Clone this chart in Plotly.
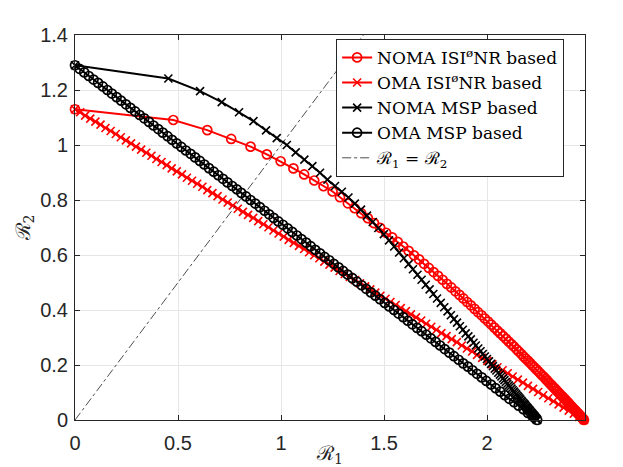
import plotly.graph_objects as go

# NOMA, ISI-free-NR based (red circles)
noma_isinr_r1 = [0, 0.477, 0.642, 0.758, 0.852, 0.931, 0.998, 1.060, 1.112, 1.161, 1.206, 1.250, 1.286,
                 1.324, 1.357, 1.389, 1.421, 1.451, 1.481, 1.510, 1.539, 1.566, 1.593, 1.619,
                 1.645, 1.670, 1.694, 1.717, 1.740, 1.762, 1.784, 1.805, 1.826, 1.846, 1.866,
                 1.885, 1.903, 1.921, 1.939, 1.956, 1.973, 1.989, 2.005, 2.020, 2.035, 2.050,
                 2.064, 2.078, 2.092, 2.105, 2.118, 2.130, 2.143, 2.154, 2.166, 2.177, 2.188,
                 2.199, 2.209, 2.219, 2.229, 2.239, 2.248, 2.257, 2.266, 2.275, 2.283, 2.291,
                 2.299, 2.307, 2.315, 2.322, 2.329, 2.336, 2.343, 2.350, 2.356, 2.363, 2.369,
                 2.375, 2.381, 2.386, 2.392, 2.397, 2.402, 2.408, 2.412, 2.417, 2.422, 2.427,
                 2.431, 2.435, 2.440, 2.444, 2.448, 2.452, 2.456, 2.459, 2.463, 2.466, 2.470]
noma_isinr_r2 = [1.130, 1.091, 1.054, 1.022, 0.994, 0.966, 0.941, 0.915, 0.893, 0.871, 0.850, 0.831, 0.810,
                 0.788, 0.770, 0.752, 0.734, 0.716, 0.699, 0.681, 0.664, 0.648, 0.631, 0.615,
                 0.599, 0.584, 0.568, 0.553, 0.538, 0.524, 0.510, 0.495, 0.482, 0.468, 0.455,
                 0.442, 0.429, 0.417, 0.404, 0.392, 0.381, 0.369, 0.358, 0.347, 0.336, 0.325,
                 0.315, 0.305, 0.295, 0.285, 0.276, 0.267, 0.257, 0.249, 0.240, 0.231, 0.223,
                 0.215, 0.207, 0.199, 0.192, 0.184, 0.177, 0.170, 0.163, 0.157, 0.150, 0.144,
                 0.137, 0.131, 0.125, 0.119, 0.114, 0.108, 0.103, 0.097, 0.092, 0.087, 0.082,
                 0.078, 0.073, 0.068, 0.064, 0.060, 0.055, 0.051, 0.047, 0.043, 0.039, 0.036,
                 0.032, 0.028, 0.025, 0.022, 0.018, 0.015, 0.012, 0.009, 0.006, 0.003, 0.000]

# OMA, ISI-free-NR based (red crosses)
oma_isinr_r1 = [0, 0.025, 0.049, 0.074, 0.099, 0.124, 0.148, 0.173, 0.198, 0.222,
                0.247, 0.272, 0.296, 0.321, 0.346, 0.371, 0.395, 0.420, 0.445, 0.469,
                0.494, 0.519, 0.543, 0.568, 0.593, 0.618, 0.642, 0.667, 0.692, 0.716,
                0.741, 0.766, 0.790, 0.815, 0.840, 0.865, 0.889, 0.914, 0.939, 0.963,
                0.988, 1.013, 1.037, 1.062, 1.087, 1.112, 1.136, 1.161, 1.186, 1.210,
                1.235, 1.260, 1.284, 1.309, 1.334, 1.359, 1.383, 1.408, 1.433, 1.457,
                1.482, 1.507, 1.531, 1.556, 1.581, 1.606, 1.630, 1.655, 1.680, 1.704,
                1.729, 1.754, 1.778, 1.803, 1.828, 1.853, 1.877, 1.902, 1.927, 1.951,
                1.976, 2.001, 2.025, 2.050, 2.075, 2.100, 2.124, 2.149, 2.174, 2.198,
                2.223, 2.248, 2.272, 2.297, 2.322, 2.347, 2.371, 2.396, 2.421, 2.445, 2.470]
oma_isinr_r2 = [1.130, 1.119, 1.107, 1.096, 1.085, 1.074, 1.062, 1.051, 1.040, 1.028,
                1.017, 1.006, 0.994, 0.983, 0.972, 0.961, 0.949, 0.938, 0.927, 0.915,
                0.904, 0.893, 0.881, 0.870, 0.859, 0.848, 0.836, 0.825, 0.814, 0.802,
                0.791, 0.780, 0.768, 0.757, 0.746, 0.735, 0.723, 0.712, 0.701, 0.689,
                0.678, 0.667, 0.655, 0.644, 0.633, 0.622, 0.610, 0.599, 0.588, 0.576,
                0.565, 0.554, 0.542, 0.531, 0.520, 0.509, 0.497, 0.486, 0.475, 0.463,
                0.452, 0.441, 0.429, 0.418, 0.407, 0.396, 0.384, 0.373, 0.362, 0.350,
                0.339, 0.328, 0.316, 0.305, 0.294, 0.283, 0.271, 0.260, 0.249, 0.237,
                0.226, 0.215, 0.203, 0.192, 0.181, 0.170, 0.158, 0.147, 0.136, 0.124,
                0.113, 0.102, 0.090, 0.079, 0.068, 0.057, 0.045, 0.034, 0.023, 0.011, 0.000]

# NOMA, MSP based (black crosses)
noma_msp_r1 = [0, 0.453, 0.607, 0.712, 0.796, 0.866, 0.927, 0.979, 1.028, 1.071, 1.113, 1.152, 1.189,
               1.225, 1.262, 1.295, 1.327, 1.358, 1.388, 1.417, 1.445, 1.472, 1.499, 1.524,
               1.549, 1.573, 1.596, 1.619, 1.640, 1.662, 1.682, 1.702, 1.721, 1.739, 1.757,
               1.775, 1.792, 1.808, 1.824, 1.839, 1.854, 1.868, 1.882, 1.896, 1.909, 1.921,
               1.934, 1.945, 1.957, 1.968, 1.979, 1.989, 1.999, 2.009, 2.019, 2.028, 2.037,
               2.045, 2.054, 2.062, 2.069, 2.077, 2.084, 2.091, 2.098, 2.105, 2.111, 2.118,
               2.124, 2.130, 2.135, 2.141, 2.146, 2.151, 2.156, 2.161, 2.166, 2.170, 2.175,
               2.179, 2.183, 2.187, 2.191, 2.195, 2.198, 2.202, 2.205, 2.208, 2.212, 2.215,
               2.218, 2.221, 2.223, 2.226, 2.229, 2.231, 2.234, 2.236, 2.239, 2.241, 2.243]
noma_msp_r2 = [1.290, 1.242, 1.196, 1.156, 1.119, 1.087, 1.053, 1.025, 1.000, 0.973, 0.947, 0.923, 0.899,
               0.874, 0.851, 0.830, 0.809, 0.787, 0.765, 0.743, 0.720, 0.698, 0.676, 0.653,
               0.631, 0.609, 0.588, 0.567, 0.548, 0.528, 0.510, 0.492, 0.475, 0.458, 0.442,
               0.426, 0.410, 0.395, 0.381, 0.367, 0.354, 0.341, 0.328, 0.315, 0.304, 0.293,
               0.281, 0.271, 0.260, 0.250, 0.240, 0.231, 0.222, 0.213, 0.204, 0.196, 0.187,
               0.180, 0.172, 0.165, 0.158, 0.151, 0.145, 0.138, 0.132, 0.126, 0.120, 0.114,
               0.108, 0.103, 0.098, 0.093, 0.088, 0.084, 0.079, 0.075, 0.070, 0.066, 0.062,
               0.058, 0.055, 0.051, 0.047, 0.044, 0.041, 0.037, 0.035, 0.032, 0.028, 0.025,
               0.023, 0.020, 0.018, 0.016, 0.013, 0.011, 0.008, 0.006, 0.004, 0.002, 0.000]

# OMA, MSP based (black circles)
oma_msp_r1 = [0, 0.022, 0.045, 0.067, 0.090, 0.112, 0.135, 0.157, 0.179, 0.202,
              0.224, 0.247, 0.269, 0.292, 0.314, 0.336, 0.359, 0.381, 0.404, 0.426,
              0.449, 0.471, 0.493, 0.516, 0.538, 0.561, 0.583, 0.606, 0.628, 0.650,
              0.673, 0.695, 0.718, 0.740, 0.763, 0.785, 0.807, 0.830, 0.852, 0.875,
              0.897, 0.920, 0.942, 0.964, 0.987, 1.009, 1.032, 1.054, 1.077, 1.099,
              1.122, 1.144, 1.166, 1.189, 1.211, 1.234, 1.256, 1.279, 1.301, 1.323,
              1.346, 1.368, 1.391, 1.413, 1.436, 1.458, 1.480, 1.503, 1.525, 1.548,
              1.570, 1.593, 1.615, 1.637, 1.660, 1.682, 1.705, 1.727, 1.750, 1.772,
              1.794, 1.817, 1.839, 1.862, 1.884, 1.907, 1.929, 1.951, 1.974, 1.996,
              2.019, 2.041, 2.064, 2.086, 2.108, 2.131, 2.153, 2.176, 2.198, 2.221, 2.243]
oma_msp_r2 = [1.290, 1.277, 1.264, 1.251, 1.238, 1.226, 1.213, 1.200, 1.187, 1.174,
              1.161, 1.148, 1.135, 1.122, 1.109, 1.097, 1.084, 1.071, 1.058, 1.045,
              1.032, 1.019, 1.006, 0.993, 0.980, 0.968, 0.955, 0.942, 0.929, 0.916,
              0.903, 0.890, 0.877, 0.864, 0.851, 0.839, 0.826, 0.813, 0.800, 0.787,
              0.774, 0.761, 0.748, 0.735, 0.722, 0.710, 0.697, 0.684, 0.671, 0.658,
              0.645, 0.632, 0.619, 0.606, 0.593, 0.581, 0.568, 0.555, 0.542, 0.529,
              0.516, 0.503, 0.490, 0.477, 0.464, 0.452, 0.439, 0.426, 0.413, 0.400,
              0.387, 0.374, 0.361, 0.348, 0.335, 0.323, 0.310, 0.297, 0.284, 0.271,
              0.258, 0.245, 0.232, 0.219, 0.206, 0.194, 0.181, 0.168, 0.155, 0.142,
              0.129, 0.116, 0.103, 0.090, 0.077, 0.065, 0.052, 0.039, 0.026, 0.013, 0.000]

# R1 = R2 reference line
diag_r = [0, 1.4]

x_ticks = [0, 0.5, 1, 1.5, 2]
x_labels = ["0", "0.5", "1", "1.5", "2"]
y_ticks = [0, 0.2, 0.4, 0.6, 0.8, 1.0, 1.2, 1.4]
y_labels = ["0", "0.2", "0.4", "0.6", "0.8", "1", "1.2", "1.4"]

RED = "#ff0000"
BLACK = "#000000"
AXC = "#262626"

fig = go.Figure()

fig.add_trace(go.Scatter(
    x=noma_isinr_r1, y=noma_isinr_r2, mode="lines+markers",
    name="NOMA ISI<sup>ø</sup>NR based",
    line=dict(color=RED, width=2),
    marker=dict(symbol="circle-open", size=9, color=RED, line=dict(width=1.7, color=RED)),
    cliponaxis=False))

fig.add_trace(go.Scatter(
    x=oma_isinr_r1, y=oma_isinr_r2, mode="lines+markers",
    name="OMA ISI<sup>ø</sup>NR based",
    line=dict(color=RED, width=2),
    marker=dict(symbol="x-thin", size=8, color=RED, line=dict(width=1.6, color=RED)),
    cliponaxis=False))

fig.add_trace(go.Scatter(
    x=noma_msp_r1, y=noma_msp_r2, mode="lines+markers",
    name="NOMA MSP based",
    line=dict(color=BLACK, width=2),
    marker=dict(symbol="x-thin", size=8, color=BLACK, line=dict(width=1.6, color=BLACK)),
    cliponaxis=False))

fig.add_trace(go.Scatter(
    x=oma_msp_r1, y=oma_msp_r2, mode="lines+markers",
    name="OMA MSP based",
    line=dict(color=BLACK, width=2),
    marker=dict(symbol="circle-open", size=9, color=BLACK, line=dict(width=1.7, color=BLACK)),
    cliponaxis=False))

fig.add_trace(go.Scatter(
    x=diag_r, y=diag_r, mode="lines",
    name="ℛ<sub>1</sub> = ℛ<sub>2</sub>",
    line=dict(color=BLACK, width=0.7, dash="dashdot")))

axis_common = dict(
    showline=True, linecolor=AXC, linewidth=1, mirror="ticks",
    ticks="inside", ticklen=5, tickcolor=AXC,
    showgrid=True, gridcolor="#e6e6e6", gridwidth=1,
    zeroline=False, automargin=False,
    tickfont=dict(family="Liberation Sans, Arial, sans-serif", size=20, color=AXC),
)

fig.update_xaxes(range=[0, 2.475], tickvals=x_ticks, ticktext=x_labels,
                 ticklabelstandoff=5,
                 title=dict(text="ℛ<sub>1</sub>", standoff=0,
                            font=dict(family="DejaVu Serif, serif", size=20, color=AXC)),
                 **axis_common)
fig.update_yaxes(range=[0, 1.4], tickvals=y_ticks, ticktext=y_labels,
                 ticklabelstandoff=2,
                 title=dict(text="ℛ<sub>2</sub>", standoff=4,
                            font=dict(family="DejaVu Serif, serif", size=20, color=AXC)),
                 **axis_common)

# the page body adds an 8px offset, so the figure is drawn 8px smaller
fig.update_layout(
    width=615, height=459,
    margin=dict(l=67, r=38, t=27, b=47),
    paper_bgcolor="white", plot_bgcolor="white",
    showlegend=True,
    legend=dict(
        x=0.512, y=0.99, xanchor="left", yanchor="top",
        bgcolor="white", bordercolor=AXC, borderwidth=1,
        font=dict(family="DejaVu Serif, serif", size=17, color="#000000"),
        itemwidth=30, tracegroupgap=0,
    ),
)

fig.write_html("out.html")
